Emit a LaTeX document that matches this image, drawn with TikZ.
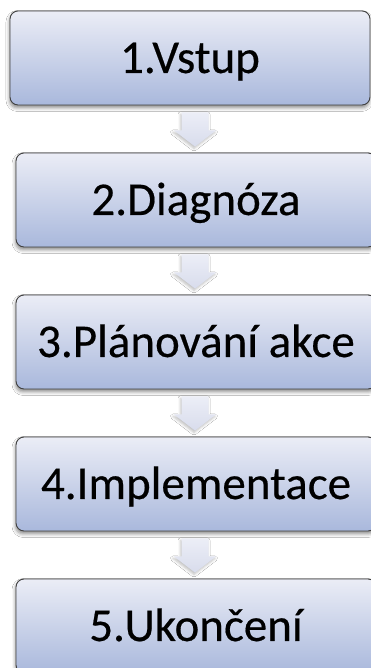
\documentclass[tikz,border=0pt]{standalone}
\usepackage{fontspec}
\setmainfont{Carlito}[UprightFeatures={FakeBold=0.4}]
\usetikzlibrary{shadows.blur,calc}
\definecolor{boxtop}{HTML}{EBEDF6}
\definecolor{boxbot}{HTML}{A9B8DC}
\definecolor{boxline}{HTML}{404040}
\definecolor{arrtop}{HTML}{ECEEF7}
\definecolor{arrbot}{HTML}{D8DCEC}
\tikzset{
  stepbox/.style={draw=boxline, line width=0.9pt, rounded corners=8pt,
    top color=boxtop, bottom color=boxbot,
    minimum width=360pt, minimum height=94pt, inner sep=0pt,
    text height=30pt, text depth=0pt,
    font=\fontsize{47}{50}\selectfont,
    blur shadow={shadow xshift=-0.5pt, shadow yshift=-3pt, shadow blur radius=3.5pt, shadow opacity=45}},
  blockarr/.style={top color=arrtop, bottom color=arrbot, draw=none,
    blur shadow={shadow xshift=-1pt, shadow yshift=-2pt, shadow blur radius=2.5pt, shadow opacity=25}}
}
\newcommand\blockarrow[2]{%
  \path[blockarr]
    ($(#1.south -| 195pt,0)+(-13.5pt,-7pt)$) --
    ($(#1.south -| 195pt,0)+(13.5pt,-7pt)$) --
    ($(#1.south -| 195pt,0)+(13.5pt,-25pt)$) --
    ($(#1.south -| 195pt,0)+(21pt,-25pt)$) --
    ($(#2.north -| 195pt,0)+(0pt,6pt)$) --
    ($(#1.south -| 195pt,0)+(-21pt,-25pt)$) --
    ($(#1.south -| 195pt,0)+(-13.5pt,-25pt)$) -- cycle;
}
\begin{document}
\begin{tikzpicture}[x=1pt,y=1pt]
\useasboundingbox (0,0) rectangle (371,668);
\clip (0,0) rectangle (371,668);
\fill[white] (0,0) rectangle (371,668);
\node[stepbox] (b1) at (190,610) {1.Vstup};
\node[stepbox] (b2) at (196,468) {2.Diagnóza};
\node[stepbox] (b3) at (196,326) {3.Plánování akce};
\node[stepbox] (b4) at (196,184) {4.Implementace};
\node[stepbox] (b5) at (196,42) {5.Ukončení};
\blockarrow{b1}{b2}
\blockarrow{b2}{b3}
\blockarrow{b3}{b4}
\blockarrow{b4}{b5}
\end{tikzpicture}
\end{document}
